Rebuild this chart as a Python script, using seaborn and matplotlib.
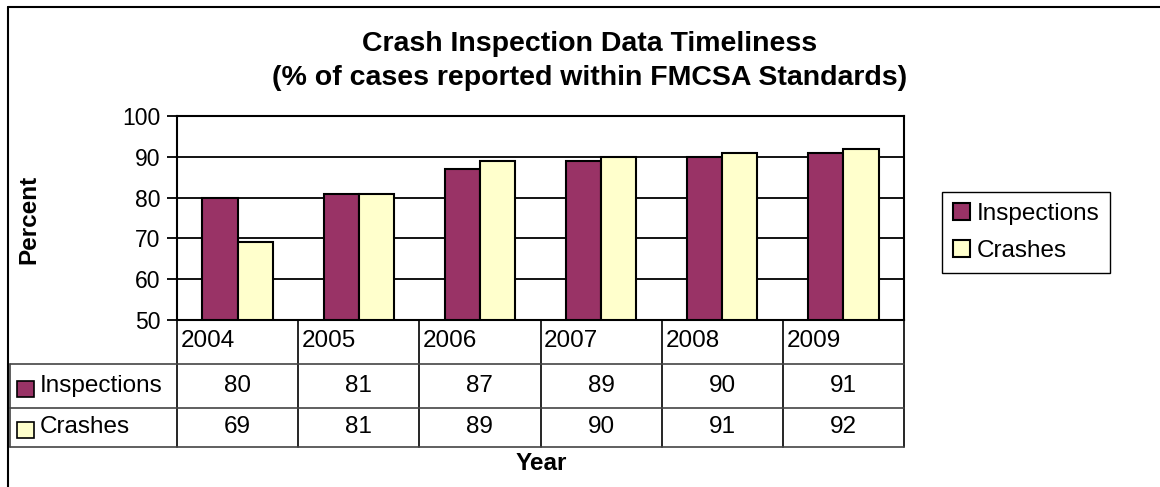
import matplotlib
matplotlib.use("Agg")
import matplotlib.pyplot as plt
import matplotlib.transforms as mtransforms
from matplotlib.patches import Rectangle
from matplotlib.lines import Line2D
import pandas as pd
import seaborn as sns

# Chart data
years = ["2004", "2005", "2006", "2007", "2008", "2009"]
inspections = [80, 81, 87, 89, 90, 91]
crashes = [69, 81, 89, 90, 91, 92]
series_names = ["Inspections", "Crashes"]
series_colors = ["#993366", "#FFFFCC"]
y_ticks = [50, 60, 70, 80, 90, 100]

title_lines = ["Crash Inspection Data Timeliness",
               "(% of cases reported within FMCSA Standards)"]

W, H = 1160, 487
sns.set_theme(style="white")
plt.rcParams["font.family"] = ["Liberation Sans", "DejaVu Sans"]
plt.rcParams["text.color"] = "black"
plt.rcParams["axes.labelcolor"] = "black"
plt.rcParams["ytick.color"] = "black"
plt.rcParams["xtick.color"] = "black"

TXT = 17.5

df = pd.DataFrame({
    "Year": years * 2,
    "Percent": inspections + crashes,
    "Series": [series_names[0]] * len(years) + [series_names[1]] * len(years),
})

fig = plt.figure(figsize=(W / 100, H / 100), dpi=100)
fig.patch.set_facecolor("white")


def fx(px):
    return px / W


def fy(py):
    return 1 - py / H


ax = fig.add_axes([fx(177), fy(320), fx(904) - fx(177), fy(116) - fy(320)])
sns.barplot(data=df, x="Year", y="Percent", hue="Series", palette=series_colors,
            width=0.58, edgecolor="black", linewidth=1.5, saturation=1, ax=ax)

ax.set_ylim(50, 100)
ax.set_xlim(-0.5, len(years) - 0.5)
ax.set_yticks(y_ticks)
ax.set_xticks([])
ax.set_xlabel("")
ax.set_ylabel("")
ax.set_axisbelow(True)
ax.yaxis.grid(True, color="black", linewidth=1.3)
for sp in ax.spines.values():
    sp.set_color("black")
    sp.set_linewidth(1.5)
ax.tick_params(axis="y", left=True, direction="out", length=7, width=1.3,
               color="black", labelsize=16.5, pad=5, labelcolor="black")

# Legend on the right
handles, labels = ax.get_legend_handles_labels()
leg = ax.legend(handles, labels, loc="upper left",
                bbox_to_anchor=(fx(942), fy(192)), bbox_transform=fig.transFigure,
                frameon=True, fancybox=False, edgecolor="black", framealpha=1,
                fontsize=TXT, handlelength=0.72, handleheight=0.72,
                handletextpad=0.25, labelspacing=0.6, borderpad=0.45,
                borderaxespad=0)
leg.get_frame().set_linewidth(1.0)

# Titles and axis labels
fig.text(fx(590), fy(44), title_lines[0], ha="center", va="center",
         fontsize=20.5, fontweight="bold")
fig.text(fx(590), fy(78), title_lines[1], ha="center", va="center",
         fontsize=20.5, fontweight="bold")
fig.text(fx(29), fy(219), "Percent", rotation=90, ha="center", va="center",
         fontsize=17.5, fontweight="bold")
fig.text(fx(541), fy(463), "Year", ha="center", va="center",
         fontsize=17.5, fontweight="bold")

# Data table under the plot
trans = mtransforms.blended_transform_factory(ax.transData, fig.transFigure)
row_lines = [364, 408, 447]
for i in range(len(years) + 1):
    fig.add_artist(Line2D([i - 0.5, i - 0.5], [fy(320), fy(447)],
                          transform=trans, color="black", linewidth=1.2))
for yy in row_lines:
    fig.add_artist(Line2D([fx(10), fx(904)], [fy(yy), fy(yy)],
                          transform=fig.transFigure, color="#444444", linewidth=1.2))
fig.add_artist(Line2D([fx(10), fx(10)], [fy(364), fy(447)],
                      transform=fig.transFigure, color="#444444", linewidth=1.2))

for i, yr in enumerate(years):
    fig.text(i - 0.5 + 0.03, fy(341), yr, transform=trans, ha="left",
             va="center", fontsize=TXT)

row_values = [inspections, crashes]
row_centers = [386, 427]
for vals, yc in zip(row_values, row_centers):
    for i, v in enumerate(vals):
        fig.text(i, fy(yc), f"{v}", transform=trans, ha="center", va="center",
                 fontsize=TXT)

for name, color, yc in zip(series_names, series_colors, row_centers):
    fig.add_artist(Rectangle((fx(17), fy(yc + 11)), fx(17), 16 / H,
                             transform=fig.transFigure, facecolor=color,
                             edgecolor="black", linewidth=1.2))
    fig.text(fx(40), fy(yc), name, ha="left", va="center", fontsize=TXT)

# Outer frame (top and left edges)
fig.add_artist(Line2D([fx(8), 1.0], [fy(7), fy(7)], transform=fig.transFigure,
                      color="black", linewidth=1.5))
fig.add_artist(Line2D([fx(8), fx(8)], [fy(7), 0.0], transform=fig.transFigure,
                      color="black", linewidth=1.5))

fig.savefig("out.png", dpi=100, facecolor="white")
